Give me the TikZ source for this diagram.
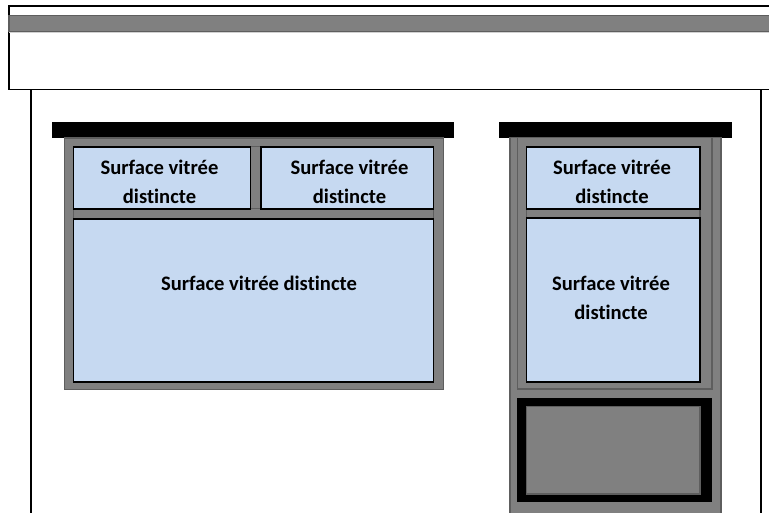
\documentclass[tikz,border=0pt]{standalone}
\usepackage{fontspec}
\setmainfont[Ligatures=NoCommon]{Carlito}
\definecolor{glass}{HTML}{C6D9F1}
\definecolor{frame}{HTML}{808080}
\definecolor{frameline}{HTML}{5E5E5E}
\begin{document}
\begin{tikzpicture}[x=1pt,y=-1pt,
  framebox/.style={fill=frame,draw=frameline,line width=1.3pt},
  glasspane/.style={fill=glass,draw=black,line width=1.6pt},
  lintel/.style={fill=black,draw=none},
  wall/.style={draw=black,line width=1.6pt},
  lbl/.style={font=\bfseries\fontsize{20.6}{29}\selectfont,align=center,inner sep=0pt}]
\useasboundingbox (0,0) rectangle (769,512);
\clip (0,0) rectangle (769,512);
\fill[white] (0,0) rectangle (769,512);
% top band box
\draw[wall] (9,5.7) rectangle (790,89.3);
\draw[fill=frame,draw=frameline,line width=1.2pt] (9,15.5) rectangle (790,31.5);
\draw[draw=black!18,line width=1pt] (9,32.6) -- (790,32.6);
% walls
\draw[wall] (30.7,89.3) -- (30.7,520);
\draw[wall] (761,89.3) -- (761,520);
% left window
\fill[lintel] (51.7,122) rectangle (454.3,138);
\draw[framebox] (64.3,138) rectangle (443.8,389.3);
\draw[framebox] (250.5,146.7) rectangle (260.7,208.7);
\draw[framebox] (73.5,208.7) rectangle (433.3,219);
\draw[glasspane] (73.5,146.7) rectangle (250.5,208.7);
\draw[glasspane] (260.7,146.7) rectangle (433.3,208.7);
\draw[glasspane] (73.5,219) rectangle (433.3,381.7);
\node[lbl] (tl) at (159.5,181.5) {Surface vitrée\\distincte};
\node[lbl] (tr) at (349.5,181.5) {Surface vitrée\\distincte};
\node[lbl,anchor=base] (big) at (259,290) {Surface vitrée distincte};
% right window
\fill[lintel] (499.3,122) rectangle (732.3,137.7);
\draw[framebox] (510,137.7) rectangle (721,530);
\draw[framebox] (517.5,137.7) rectangle (712,389);
\draw[framebox] (526.5,209) rectangle (700,218);
\draw[glasspane] (526.5,146.7) rectangle (700,209);
\draw[glasspane] (526.5,218) rectangle (700,381.7);
\fill[black] (517,397.5) rectangle (712,502);
\draw[framebox] (526.5,406.7) rectangle (700,494);
\node[lbl] (rt) at (612,181.5) {Surface vitrée\\distincte};
\node[lbl] (rb) at (611,298) {Surface vitrée\\distincte};
\end{tikzpicture}
\end{document}
